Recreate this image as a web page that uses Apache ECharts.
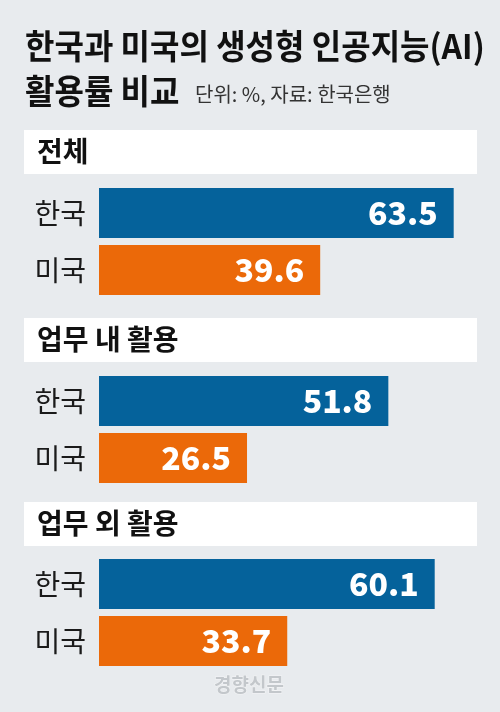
<!DOCTYPE html>
<html>
<head>
<meta charset="utf-8">
<script src="https://cdn.jsdelivr.net/npm/echarts@6/dist/echarts.min.js"></script>
<style>
html,body{margin:0;padding:0;background:#e8ebee;}
#chart{width:500px;height:712px;}
</style>
</head>
<body>
<div id="chart"></div>
<script>
// ---- data ----
const titleLine1 = '한국과 미국의 생성형 인공지능(AI)';
const titleLine2 = '활용률 비교';
const subtitle = '단위: %, 자료: 한국은행';
const source = '경향신문';
const sections = ['전체', '업무 내 활용', '업무 외 활용'];
const countries = ['한국', '미국'];
const koreaValues = [63.5, 51.8, 60.1];
const usaValues = [39.6, 26.5, 33.7];

// ---- layout / style ----
const FONT = '"Noto Sans CJK KR", "Noto Sans", sans-serif';
const BLUE = '#05629b';
const ORANGE = '#eb6909';
const gridTops = [184.5, 372.5, 555.5];
const bandTops = [130, 318, 502];
const colors = [BLUE, ORANGE];

const chart = echarts.init(document.getElementById('chart'), null, {renderer: 'canvas'});

const grids = [], xAxes = [], yAxes = [], series = [], graphics = [];
sections.forEach((sec, i) => {
  grids.push({left: 99, width: 391, top: gridTops[i], height: 114, containLabel: false});
  xAxes.push({type: 'value', gridIndex: i, min: 0, max: 70, show: false});
  yAxes.push({
    type: 'category', gridIndex: i, data: countries, inverse: true,
    axisLine: {show: false}, axisTick: {show: false}, splitLine: {show: false},
    axisLabel: {margin: 13, fontFamily: FONT, fontSize: 28, color: '#1a1a1a', fontWeight: 'normal'}
  });
  const vals = [koreaValues[i], usaValues[i]];
  series.push({
    type: 'bar', xAxisIndex: i, yAxisIndex: i, barWidth: 50,
    data: vals.map((v, k) => ({value: v, itemStyle: {color: colors[k]}})),
    label: {
      show: true, position: 'insideRight', distance: 16,
      formatter: p => p.value.toFixed(1),
      fontFamily: FONT, fontSize: 32, fontWeight: 900, color: '#fff'
    },
    silent: true, animation: false
  });
  graphics.push({
    type: 'rect', z: -1, shape: {x: 24, y: bandTops[i], width: 453, height: 44},
    style: {fill: '#ffffff'}
  });
  graphics.push({
    type: 'text', x: 37, y: bandTops[i] + 21,
    style: {text: sec, font: 'bold 28px ' + FONT, fill: '#111', align: 'left', verticalAlign: 'middle'}
  });
});

graphics.push({
  type: 'text', x: 25, y: 46, scaleY: 1.06,
  style: {text: titleLine1, font: 'bold 32px ' + FONT, fill: '#111', align: 'left', verticalAlign: 'middle'}
});
graphics.push({
  type: 'text', x: 25, y: 91, scaleY: 1.06,
  style: {text: titleLine2, font: 'bold 32px ' + FONT, fill: '#111', align: 'left', verticalAlign: 'middle'}
});
graphics.push({
  type: 'text', x: 195, y: 94,
  style: {text: subtitle, font: 'normal 20px ' + FONT, fill: '#333', align: 'left', verticalAlign: 'middle'}
});
graphics.push({
  type: 'text', x: 249, y: 685,
  style: {text: source, font: 'bold 19px ' + FONT, fill: '#c3c7cb', align: 'center', verticalAlign: 'middle',
          stroke: '#f4f5f6', lineWidth: 1}
});

chart.setOption({
  backgroundColor: '#e8ebee',
  animation: false,
  grid: grids,
  xAxis: xAxes,
  yAxis: yAxes,
  series: series,
  graphic: graphics
});
</script>
</body>
</html>
